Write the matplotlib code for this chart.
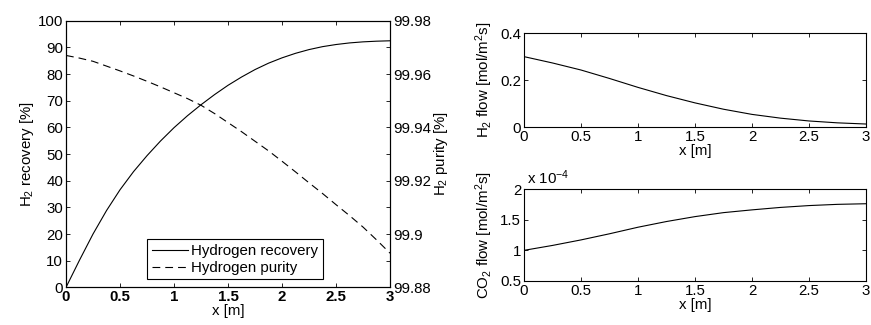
import numpy as np
import matplotlib.pyplot as plt

plt.rcParams['font.family'] = ['Liberation Sans', 'DejaVu Sans']
plt.rcParams['font.size'] = 10.8
plt.rcParams['mathtext.fontset'] = 'custom'
plt.rcParams['mathtext.rm'] = 'Liberation Sans'
plt.rcParams['mathtext.it'] = 'Liberation Sans'

# length coordinate [m]
x = [0, 0.125, 0.25, 0.375, 0.5, 0.625, 0.75, 0.875, 1.0, 1.125, 1.25, 1.375, 1.5,
     1.625, 1.75, 1.875, 2.0, 2.125, 2.25, 2.375, 2.5, 2.625, 2.75, 2.875, 3.0]

# H2 recovery [%]
recovery = [0, 10.2, 20.0, 28.8, 36.6, 43.4, 49.4, 54.9, 59.9, 64.4, 68.5, 72.3, 75.8,
            78.9, 81.7, 84.1, 86.1, 87.8, 89.2, 90.3, 91.1, 91.7, 92.1, 92.35, 92.5]
# H2 purity [%]
purity = [99.9670, 99.9660, 99.9648, 99.9630, 99.9612, 99.9593, 99.9573, 99.9552,
          99.9530, 99.9508, 99.9483, 99.9452, 99.9418, 99.9384, 99.9348, 99.9312,
          99.9273, 99.9233, 99.9192, 99.9152, 99.9110, 99.9069, 99.9026, 99.8978,
          99.8928]

# fluxes
x_flow = [0, 0.25, 0.5, 0.75, 1.0, 1.25, 1.5, 1.75, 2.0, 2.25, 2.5, 2.75, 3.0]
h2_flow = [0.300, 0.273, 0.243, 0.207, 0.169, 0.134, 0.103, 0.076, 0.054, 0.038, 0.026, 0.018, 0.013]
co2_flow = [1.00, 1.08, 1.17, 1.27, 1.377, 1.47, 1.55, 1.615, 1.66, 1.70, 1.73, 1.75, 1.76]  # x 1e-4

fig = plt.figure(figsize=(8.71, 3.25), dpi=100)

def style(ax):
    ax.tick_params(direction='in', length=3, width=0.6, top=True, right=True, pad=2)
    for s in ax.spines.values():
        s.set_linewidth(0.8)

# left: recovery / purity
ax = fig.add_axes([0.0758, 0.116, 0.372, 0.820])
l1, = ax.plot(x, recovery, '-', color='black', lw=0.8, label='Hydrogen recovery')
ax.set_xlim(0, 3)
ax.set_ylim(0, 100)
ax.set_xticks([0, 0.5, 1, 1.5, 2, 2.5, 3])
ax.set_xticklabels(['0', '0.5', '1', '1.5', '2', '2.5', '3'], fontweight='bold')
ax.set_yticks(range(0, 101, 10))
ax.set_xlabel('x [m]', labelpad=0)
ax.set_ylabel('H$_2$ recovery [%]', labelpad=1)
style(ax)
ax.tick_params(right=False)

ax2 = ax.twinx()
l2, = ax2.plot(x, purity, '--', color='black', lw=0.8, dashes=(7, 4.5), label='Hydrogen purity')
ax2.set_ylim(99.88, 99.98)
ax2.set_yticks([99.88, 99.9, 99.92, 99.94, 99.96, 99.98])
ax2.set_yticklabels(['99.88', '99.9', '99.92', '99.94', '99.96', '99.98'])
ax2.set_ylabel('H$_2$ purity [%]', labelpad=1)
ax2.tick_params(direction='in', length=3, width=0.6, pad=2)
ax2.set_yticks(np.arange(99.88, 99.985, 0.01), minor=True)
ax2.tick_params(which='minor', direction='in', length=3, width=0.6)

leg = ax.legend([l1, l2], ['Hydrogen recovery', 'Hydrogen purity'],
                loc='lower left', bbox_to_anchor=(0.25, 0.03), fancybox=False,
                edgecolor='black', framealpha=1, handlelength=2.4,
                borderpad=0.3, labelspacing=0.2, handletextpad=0.25,
                borderaxespad=0.0)
leg.get_frame().set_linewidth(0.8)

# top right: H2 flow
ax3 = fig.add_axes([0.6016, 0.609, 0.3927, 0.289])
ax3.plot(x_flow, h2_flow, '-', color='black', lw=0.8)
ax3.set_xlim(0, 3)
ax3.set_ylim(0, 0.4)
ax3.set_xticks([0, 0.5, 1, 1.5, 2, 2.5, 3])
ax3.set_xticklabels(['0', '0.5', '1', '1.5', '2', '2.5', '3'])
ax3.set_yticks([0, 0.2, 0.4])
ax3.set_yticklabels(['0', '0.2', '0.4'])
ax3.set_xlabel('x [m]', labelpad=0)
ax3.set_ylabel('H$_2$ flow [mol/m$^2$s]', labelpad=4)
style(ax3)

# bottom right: CO2 flow
ax4 = fig.add_axes([0.6016, 0.1354, 0.3927, 0.283])
ax4.plot(x_flow, co2_flow, '-', color='black', lw=0.8)
ax4.set_xlim(0, 3)
ax4.set_ylim(0.5, 2)
ax4.set_xticks([0, 0.5, 1, 1.5, 2, 2.5, 3])
ax4.set_xticklabels(['0', '0.5', '1', '1.5', '2', '2.5', '3'])
ax4.set_yticks([0.5, 1, 1.5, 2])
ax4.set_yticklabels(['0.5', '1', '1.5', '2'])
ax4.set_xlabel('x [m]', labelpad=0)
ax4.set_ylabel('CO$_2$ flow [mol/m$^2$s]', labelpad=4)
ax4.text(0.01, 1.02, 'x 10$^{-4}$', transform=ax4.transAxes, ha='left', va='bottom')
style(ax4)

fig.savefig('out.png', dpi=100)
